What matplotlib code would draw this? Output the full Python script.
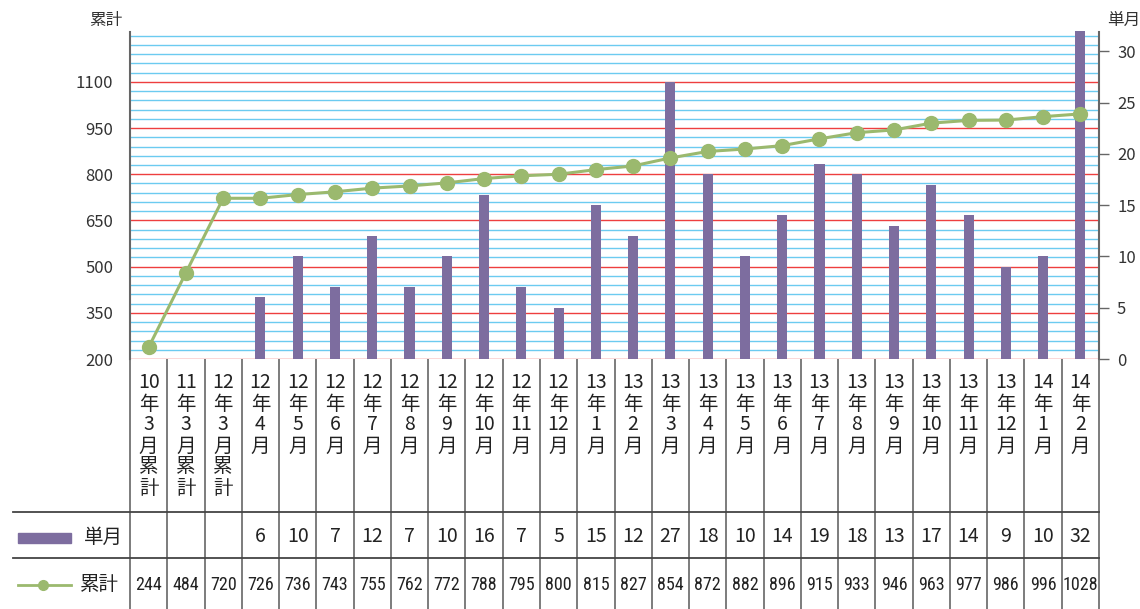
import re
import numpy as np
import matplotlib
matplotlib.use("Agg")
from matplotlib import pyplot as plt
from matplotlib import font_manager as fm
from matplotlib.transforms import blended_transform_factory

CJK = ["Noto Sans CJK JP", "DejaVu Sans"]

categories = ["10年3月累計", "11年3月累計", "12年3月累計",
              "12年4月", "12年5月", "12年6月", "12年7月", "12年8月", "12年9月",
              "12年10月", "12年11月", "12年12月", "13年1月", "13年2月", "13年3月",
              "13年4月", "13年5月", "13年6月", "13年7月", "13年8月", "13年9月",
              "13年10月", "13年11月", "13年12月", "14年1月", "14年2月"]
monthly = [None, None, None, 6, 10, 7, 12, 7, 10, 16, 7, 5, 15, 12, 27,
           18, 10, 14, 19, 18, 13, 17, 14, 9, 10, 32]
cumulative = [244, 484, 720, 726, 736, 743, 755, 762, 772, 788, 795, 800, 815,
              827, 854, 872, 882, 896, 915, 933, 946, 963, 977, 986, 996, 1028]
# the drawn line lags the table at the right end
line_values = [238, 480, 722, 722, 734, 743, 755, 762, 772, 786, 795, 800, 815,
               827, 853, 874, 882, 893, 915, 935, 944, 966, 975, 976, 987, 996]
left_ticks = [200, 350, 500, 650, 800, 950, 1100]
right_ticks = [0, 5, 10, 15, 20, 25, 30]

BAR = "#7d6d9f"
GREEN = "#9bb96e"
RED = "#ee3f3f"
BLUE = "#6ccbf0"
LINE = "#666666"

# a narrow face for the cumulative row
names = {f.name for f in fm.fontManager.ttflist}
dv_cond = any(f.name == "DejaVu Sans" and f.stretch == "condensed" for f in fm.fontManager.ttflist)
if "Liberation Sans Narrow" in names:
    narrow = dict(family="Liberation Sans Narrow", fontsize=13)
elif "Roboto Condensed" in names:
    narrow = dict(family="Roboto Condensed", fontsize=13)
elif dv_cond:
    narrow = dict(family="DejaVu Sans", fontstretch="condensed", fontsize=11)
else:
    narrow = dict(family=CJK, fontsize=10.5)

W, H = 1140, 609
fig = plt.figure(figsize=(W / 100, H / 100), dpi=100)
# axes box in pixels: x 130..1099, y 32..359
ax = fig.add_axes([130 / W, 1 - 359 / H, (1099 - 130) / W, (359 - 32) / H])
ax2 = ax.twinx()

n = len(categories)
x = np.arange(n)

def fy(py):
    return 1 - py / H

# bars (right axis)
bar_x = [i for i in x if monthly[i] is not None]
bar_h = [monthly[i] for i in bar_x]
ax.bar(bar_x, bar_h, width=0.27, color=BAR, zorder=3, clip_on=False)
ax.set_xlim(-0.5, n - 0.5)
ax.set_ylim(0, 31.9)
ax.yaxis.tick_right()
ax.set_yticks(right_ticks)
ax.tick_params(axis="y", direction="out", length=7, width=1, color=LINE,
               pad=6, labelsize=12, labelcolor="#333333")
ax.tick_params(axis="x", bottom=False, labelbottom=False)
for lab in ax.get_yticklabels():
    lab.set_family(CJK)
for s in ["top", "bottom", "left"]:
    ax.spines[s].set_visible(False)
ax.spines["right"].set_color(LINE)
ax.spines["right"].set_linewidth(1.5)

# cumulative line (left axis)
ax2.plot(x, line_values, color=GREEN, lw=2.2, marker="o", ms=10, zorder=5, clip_on=False)
ax2.set_ylim(200, 1262)
ax2.yaxis.tick_left()
ax2.set_yticks(left_ticks)
ax2.tick_params(axis="y", length=0, pad=12, labelsize=12, labelcolor="#333333")
for lab in ax2.get_yticklabels():
    lab.set_family(CJK)
for s in ["top", "bottom", "right"]:
    ax2.spines[s].set_visible(False)
ax2.spines["left"].set_color(LINE)
ax2.spines["left"].set_linewidth(1.5)

# grid lines in left-axis units, drawn under the bars
grid_tr = blended_transform_factory(ax.transAxes, ax2.transData)
minor = [v for v in range(200, 1251, 30) if v not in left_ticks]
ax.hlines(minor, 0, 1, transform=grid_tr, color=BLUE, lw=1, zorder=1)
ax.hlines(left_ticks, 0, 1, transform=grid_tr, color=RED, lw=1, zorder=2)

# axis titles
fig.text(122 / W, fy(21), "累計", ha="right", va="center", fontsize=12, family=CJK, color="#333333")
fig.text(1140 / W, fy(20), "単月", ha="right", va="center", fontsize=12, family=CJK, color="#333333")

# table below the plot
tr = blended_transform_factory(ax.transData, fig.transFigure)
bounds = np.arange(n + 1) - 0.5
ax.vlines(bounds, fy(H), fy(359), transform=tr, color=LINE, lw=1.2, clip_on=False)
for py in [511.7, 557.7]:
    fig.add_artist(plt.Line2D([13 / W, 1099 / W], [fy(py), fy(py)], color="#444444", lw=1.3))

for i, lab in enumerate(categories):
    for k, tok in enumerate(re.findall(r"\d+|\D", lab)):
        ax.text(i, fy(383 + k * 21), tok, transform=tr, ha="center", va="center",
                fontsize=14, family=CJK, color="#222222", clip_on=False)
    if monthly[i] is not None:
        ax.text(i, fy(537), str(monthly[i]), transform=tr, ha="center", va="center",
                fontsize=14, family=CJK, color="#222222", clip_on=False)
    ax.text(i, fy(585), str(cumulative[i]), transform=tr, ha="center", va="center",
            color="#222222", clip_on=False, **narrow)

# row legends
fig.patches.append(plt.Rectangle((18 / W, fy(543)), 53 / W, 10 / H, color=BAR,
                                 transform=fig.transFigure, figure=fig))
fig.text(103 / W, fy(537), "単月", ha="center", va="center", fontsize=14, family=CJK, color="#222222")
fig.add_artist(plt.Line2D([18 / W, 71 / W], [fy(585), fy(585)], color=GREEN, lw=2))
fig.add_artist(plt.Line2D([43 / W], [fy(585)], color=GREEN, marker="o", ms=7))
fig.text(99 / W, fy(585), "累計", ha="center", va="center", fontsize=14, family=CJK, color="#222222")

fig.savefig("out.png", dpi=100)
